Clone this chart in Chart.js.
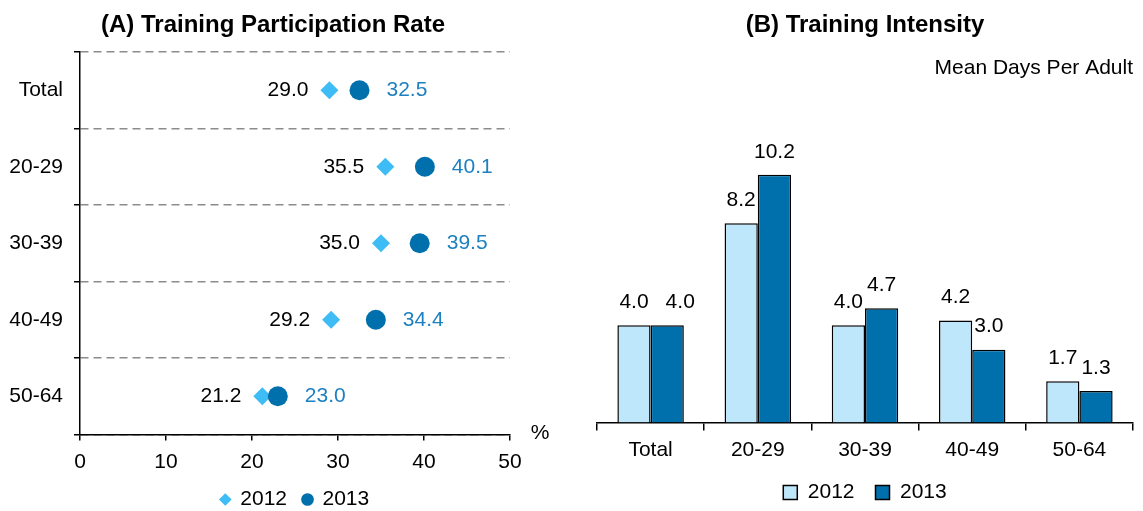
<!DOCTYPE html>
<html>
<head>
<meta charset="utf-8">
<script src="https://cdn.jsdelivr.net/npm/chart.js@4.4.1/dist/chart.umd.min.js"></script>
<style>
  html, body { margin:0; padding:0; background:#fff; overflow:hidden; }
  #rateChart { position:absolute; left:0; top:0; }
  #intensityChart { position:absolute; left:560px; top:0; }
</style>
</head>
<body>
<canvas id="rateChart" width="560" height="520"></canvas>
<canvas id="intensityChart" width="583" height="513"></canvas>
<script>
// data
const groups = ["Total", "20-29", "30-39", "40-49", "50-64"];
const rate2012 = [29.0, 35.5, 35.0, 29.2, 21.2];
const rate2013 = [32.5, 40.1, 39.5, 34.4, 23.0];
const days2012 = [4.0, 8.2, 4.0, 4.2, 1.7];
const days2013 = [4.0, 10.2, 4.7, 3.0, 1.3];
const rateRange = [0, 50];
const daysRange = [0, 12];

const FONT = "'Liberation Sans', Arial, sans-serif";
const SKY = "#3dbcf5";
const NAVY = "#0070ad";
const PALE = "#bfe7fb";
const LABEL_BLUE = "#1c80c1";

Chart.defaults.font.family = FONT;
Chart.defaults.font.size = 21;
Chart.defaults.color = "#000";

// writes the value next to each point / above each bar
const valueLabels = {
  id:"valueLabels",
  afterDatasetsDraw(chart){
    const ctx = chart.ctx;
    ctx.save();
    ctx.font = "21px " + FONT;
    ctx.textBaseline = "middle";
    chart.data.datasets.forEach((ds, i) => {
      const lbl = ds.valueLabel;
      if(!lbl) return;
      ctx.fillStyle = lbl.color;
      ctx.textAlign = lbl.align;
      chart.getDatasetMeta(i).data.forEach((el, j) => {
        const nudge = (lbl.nudge && lbl.nudge[j]) || 0;
        ctx.fillText(ds.data[j].toFixed(1), el.x + lbl.dx + nudge, el.y + lbl.dy);
      });
    });
    ctx.restore();
  }
};

// "%" at the end of the x axis
const unitLabel = {
  id:"unitLabel",
  afterDraw(chart){
    const {ctx, chartArea} = chart;
    ctx.save();
    ctx.font = "21px " + FONT;
    ctx.fillStyle = "#000";
    ctx.textAlign = "center";
    ctx.textBaseline = "middle";
    ctx.fillText("%", chartArea.right + 30, chartArea.bottom - 1);
    ctx.restore();
  }
};

const byIndex = (a, b) => a.datasetIndex - b.datasetIndex;
// chart.js counts tick padding twice in the axis height; keep only one
const tightAxis = s => { s.height = s.options.grid.tickLength + s.options.ticks.padding + 21; };

new Chart(document.getElementById("rateChart"), {
  type:"line",
  data:{
    labels:groups,
    datasets:[
      { label:"2012", data:rate2012, showLine:false, order:1,
        pointStyle:"rectRot", pointRadius:9, pointHoverRadius:9, pointBorderWidth:0,
        pointBackgroundColor:SKY, backgroundColor:SKY, borderColor:SKY,
        valueLabel:{ color:"#000", align:"right", dx:-21, dy:0 } },
      { label:"2013", data:rate2013, showLine:false, order:0,
        pointStyle:"circle", pointRadius:10, pointHoverRadius:10, pointBorderWidth:0,
        pointBackgroundColor:NAVY, backgroundColor:NAVY, borderColor:NAVY,
        valueLabel:{ color:LABEL_BLUE, align:"left", dx:27, dy:0 } }
    ]
  },
  options:{
    responsive:false,
    animation:false,
    indexAxis:"y",
    layout:{ padding:{ left:0, right:14, top:0, bottom:0 } },
    plugins:{
      title:{ display:true, text:"(A) Training Participation Rate", color:"#000",
        font:{ size:24, weight:"bold" }, padding:{ top:11, bottom:12.2 } },
      legend:{ position:"bottom", fullSize:false,
        labels:{ usePointStyle:true, boxWidth:9, boxHeight:9, padding:16, color:"#000", sort:byIndex } },
      tooltip:{ enabled:false }
    },
    scales:{
      x:{
        type:"linear", min:rateRange[0], max:rateRange[1],
        ticks:{ stepSize:10, padding:11.5, color:"#000", font:{ lineHeight:1 } },
        grid:{ drawOnChartArea:false, tickLength:6, color:"#000", lineWidth:1.5 },
        border:{ color:"#000", width:1.5, z:1 },
        afterFit:tightAxis
      },
      y:{
        type:"category", offset:true,
        ticks:{ padding:11, color:"#000" },
        grid:{ offset:true, color:"#8c8c8c", lineWidth:1.5, tickColor:"#000", tickLength:6 },
        border:{ color:"#000", width:1.5, dash:[8,5] },
        afterFit(s){ s.width = 80; }
      },
      // empty strip on the right, room for the "%" sign
      spacer:{
        type:"linear", position:"right", display:true,
        ticks:{ display:false }, grid:{ display:false }, border:{ display:false },
        afterFit(s){ s.width = 36; }
      }
    }
  },
  plugins:[valueLabels, unitLabel]
});

new Chart(document.getElementById("intensityChart"), {
  type:"bar",
  data:{
    labels:groups,
    datasets:[
      { label:"2012", data:days2012, backgroundColor:PALE, borderColor:"#000", borderWidth:1.5,
        valueLabel:{ color:"#000", align:"center", dx:0, dy:-23 } },
      { label:"2013", data:days2013, backgroundColor:NAVY, borderColor:"#000", borderWidth:1.5,
        valueLabel:{ color:"#000", align:"center", dx:0, dy:-23, nudge:{ 0:13 } } }
    ]
  },
  options:{
    responsive:false,
    animation:false,
    layout:{ padding:{ left:37, right:10, top:0, bottom:0 } },
    datasets:{ bar:{ categoryPercentage:0.62, barPercentage:1 } },
    plugins:{
      title:{ display:true, text:"(B) Training Intensity", color:"#000",
        font:{ size:24, weight:"bold" }, padding:{ top:11, bottom:6 } },
      subtitle:{ display:true, text:"Mean Days Per Adult", align:"end", color:"#000",
        font:{ size:21, weight:"normal" }, padding:{ top:9.6, bottom:50.4 } },
      legend:{ position:"bottom",
        labels:{ boxWidth:14, boxHeight:14, padding:21, color:"#000" } },
      tooltip:{ enabled:false }
    },
    scales:{
      x:{
        ticks:{ padding:9.5, color:"#000", font:{ lineHeight:1 } },
        grid:{ drawOnChartArea:false, tickLength:8, color:"#000", lineWidth:1.5 },
        border:{ color:"#000", width:1.5 },
        afterFit:tightAxis
      },
      y:{ display:false, min:daysRange[0], max:daysRange[1] }
    }
  },
  plugins:[valueLabels]
});
</script>
</body>
</html>
